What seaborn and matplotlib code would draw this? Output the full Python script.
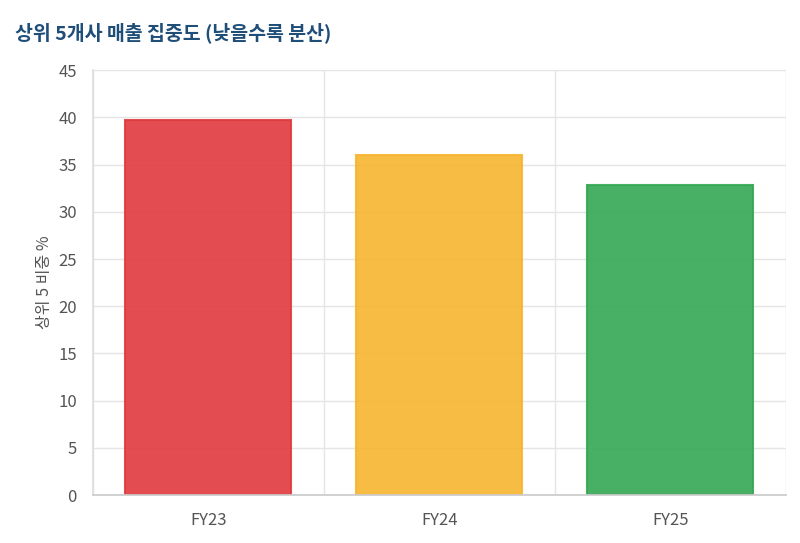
import matplotlib
matplotlib.use("Agg")
import matplotlib.pyplot as plt
import seaborn as sns
import pandas as pd

categories = ["FY23", "FY24", "FY25"]
values = [39.7, 36.0, 32.8]
colors = ["#e03a3e", "#f5b52e", "#34a853"]

sns.set_theme(style="white")
plt.rcParams['font.family'] = ['Noto Sans CJK KR', 'DejaVu Sans']

df = pd.DataFrame({"cat": categories, "val": values})
fig = plt.figure(figsize=(8, 5.43), dpi=100)
ax = fig.add_axes([0.116, 0.088, 0.866, 0.783])
sns.barplot(data=df, x="cat", y="val", hue="cat", palette=colors, width=0.72,
            saturation=1, alpha=0.9, linewidth=0, legend=False, ax=ax)
for p, c in zip(ax.patches, colors):
    p.set_edgecolor(c); p.set_linewidth(1.5)
ax.set_ylim(0, 45)
ax.set_xlim(-0.5, 2.5)
ax.set_yticks(range(0, 46, 5))
ax.set_xticks([0, 1, 2])
ax.set_xticks([-0.5, 0.5, 1.5, 2.5], minor=True)
ax.grid(True, axis="y", color="#e5e5e5", linewidth=1)
ax.grid(True, axis="x", which="minor", color="#e5e5e5", linewidth=1)
ax.tick_params(axis="x", which="major", length=0, pad=12, labelsize=12, labelcolor="#555")
ax.tick_params(axis="x", which="minor", length=12, color="#ddd")
ax.tick_params(axis="y", length=8, color="#ddd", labelsize=12, labelcolor="#555")
ax.set_axisbelow(True)
for s in ["top", "right"]:
    ax.spines[s].set_visible(False)
ax.spines["left"].set_color("#ddd")
ax.spines["bottom"].set_color("#ccc")
ax.set_xlabel("")
ax.set_ylabel("상위 5 비중 %", fontsize=11.5, color="#555")
fig.text(0.019, 0.94, "상위 5개사 매출 집중도 (낮을수록 분산)", fontsize=14,
         fontweight="bold", color="#1f4e79", va="center")
fig.savefig("out.png", dpi=100)
